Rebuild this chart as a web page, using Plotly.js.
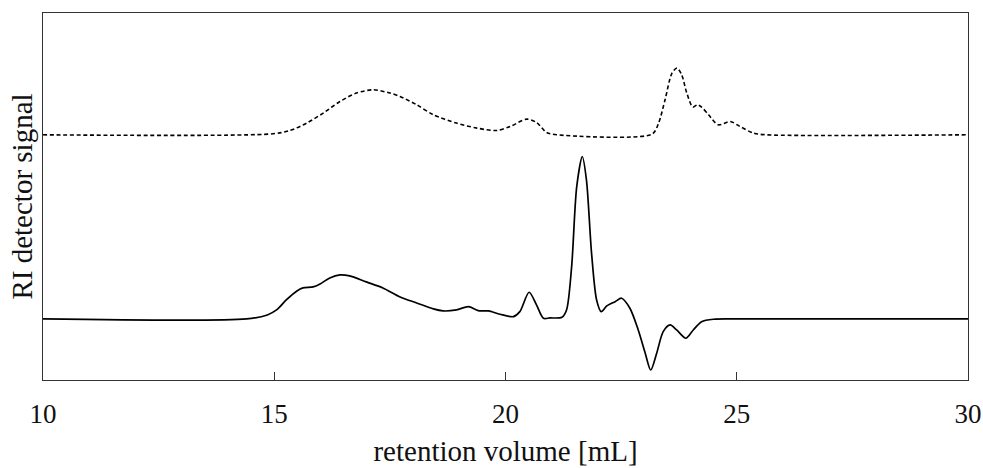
<!DOCTYPE html>
<html>
<head>
<meta charset="utf-8">
<script src="https://cdn.plot.ly/plotly-3.0.1.min.js"></script>
<style>html,body{margin:0;padding:0;background:#fff;}#chart{width:983px;height:468px;}</style>
</head>
<body>
<div id="chart"></div>
<script>
// Solid trace (lower chromatogram)
const solidX = [10, 14.4, 14.85, 15.05, 15.26, 15.49, 15.62, 15.84, 15.99, 16.2, 16.42, 16.63, 16.99, 17.35, 17.72, 18.08, 18.44, 18.65, 18.94, 19.2, 19.41, 19.63, 19.88, 20.17, 20.31, 20.51, 20.67, 20.82, 20.96, 21.22, 21.32, 21.43, 21.54, 21.66, 21.75, 21.86, 21.97, 22.07, 22.19, 22.37, 22.51, 22.69, 22.87, 23.02, 23.14, 23.27, 23.41, 23.56, 23.7, 23.9, 24.06, 24.24, 24.5, 25, 30];
const solidY = [61, 61, 65, 70, 80, 89, 92, 93, 96, 102, 105, 104, 98, 92, 83, 77, 71, 69, 70, 73.3, 69.3, 69, 65.7, 63.3, 68.3, 87.7, 75, 61.7, 62, 62.7, 70, 113.3, 193.3, 223.3, 200, 127, 80, 68.3, 74, 78.3, 81.7, 71.7, 50, 27, 10, 27, 48.3, 55, 50, 41.7, 50, 58.3, 60.7, 61, 61];
// Dashed trace (upper chromatogram)
const dashX = [10, 14.97, 15.34, 15.7, 16.06, 16.42, 16.78, 17.14, 17.5, 17.72, 18.08, 18.44, 18.94, 19.38, 19.81, 20.1, 20.46, 20.67, 20.89, 21.11, 23.17, 23.31, 23.45, 23.6, 23.71, 23.81, 23.92, 24.05, 24.15, 24.24, 24.39, 24.6, 24.86, 25.07, 25.36, 25.65, 30];
const dashY = [245, 246, 249.3, 256.7, 266.7, 278.3, 286.7, 290, 286.7, 283.3, 275, 265, 256.7, 251.7, 249.3, 253.3, 260.7, 257.3, 247.3, 245, 245.7, 256.7, 280, 306.7, 311.7, 305, 286.7, 272.7, 275, 272.7, 265, 255, 258.3, 253.3, 246.7, 245, 245];
const xTicks = [10, 15, 20, 25, 30];

const traces = [
  {x: dashX, y: dashY, mode: 'lines', line: {color: '#000', width: 1.6, dash: '4px,2.7px', shape: 'spline', smoothing: 0.8}, showlegend: false, hoverinfo: 'skip'},
  {x: solidX, y: solidY, mode: 'lines', line: {color: '#000', width: 1.7, shape: 'spline', smoothing: 0.8}, showlegend: false, hoverinfo: 'skip'}
];

const layout = {
  width: 983, height: 468,
  margin: {l: 43, r: 15, t: 13, b: 88},
  paper_bgcolor: '#fff', plot_bgcolor: '#fff',
  font: {family: '"Liberation Serif", "Times New Roman", serif', color: '#111'},
  xaxis: {
    range: [10, 30], tickvals: xTicks, ticktext: xTicks.map(String),
    ticks: 'inside', ticklen: 8, tickcolor: '#333', tickwidth: 1,
    showline: true, mirror: true, linecolor: '#333', linewidth: 1,
    showgrid: false, zeroline: false,
    tickfont: {size: 27, family: '"Liberation Serif", serif', color: '#111'},
    ticklabelstandoff: 10,
    title: {text: 'retention volume [mL]', font: {size: 29, family: '"Liberation Serif", serif', color: '#111'}, standoff: 12}
  },
  yaxis: {
    range: [0, 366.7],
    showticklabels: false, ticks: '',
    showline: true, mirror: true, linecolor: '#333', linewidth: 1,
    showgrid: false, zeroline: false,
    title: {text: 'RI detector signal', font: {size: 29, family: '"Liberation Serif", serif', color: '#111'}, standoff: 0}
  }
};

Plotly.newPlot('chart', traces, layout, {staticPlot: true, displayModeBar: false});
</script>
</body>
</html>
